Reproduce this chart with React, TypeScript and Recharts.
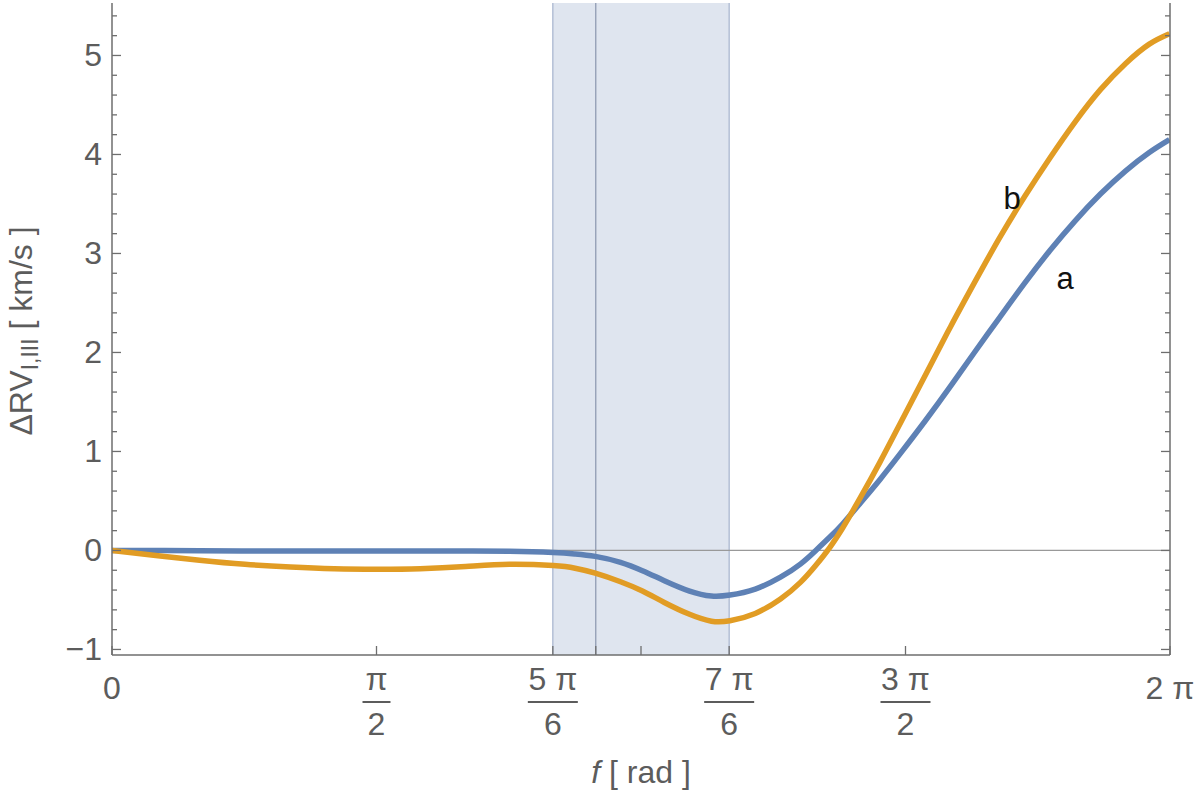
import { LineChart, Line, XAxis, YAxis, ReferenceArea, ReferenceLine, ReferenceDot } from 'recharts';

const PI = Math.PI;

// f [rad]
const fValues = [
  0, 0.26, 0.52, 0.79, 1.06, 1.32, 1.57, 1.83, 2.1, 2.36, 2.62, 2.75, 2.87, 3.02, 3.15, 3.28, 3.43, 3.56, 3.67,
  3.82, 3.97, 4.09, 4.18, 4.26, 4.34, 4.44, 4.56, 4.68, 4.83, 4.98, 5.13, 5.27, 5.42, 5.57, 5.72, 5.87, 6.02, 6.16, 6.28,
];
// curve a (blue)
const aValues = [
  0, 0, -0.004, -0.005, -0.005, -0.005, -0.005, -0.005, -0.006, -0.008, -0.02, -0.035, -0.06, -0.12, -0.205, -0.305,
  -0.41, -0.46, -0.45, -0.39, -0.27, -0.135, 0, 0.13, 0.27, 0.47, 0.715, 0.975, 1.31, 1.66, 2.02, 2.35, 2.7, 3.03, 3.33,
  3.6, 3.835, 4.02, 4.15,
];
// curve b (orange)
const bValues = [
  0, -0.05, -0.098, -0.14, -0.168, -0.185, -0.19, -0.185, -0.163, -0.14, -0.153, -0.179, -0.229, -0.316, -0.41, -0.525,
  -0.645, -0.715, -0.71, -0.636, -0.49, -0.32, -0.15, 0.024, 0.23, 0.52, 0.89, 1.28, 1.77, 2.26, 2.73, 3.155, 3.575,
  3.965, 4.33, 4.655, 4.92, 5.115, 5.22,
];

const xTicks = [0, PI / 2, (5 * PI) / 6, 2.873, PI, (7 * PI) / 6, (3 * PI) / 2, 2 * PI];
const xTickNum = ['0', 'π', '5 π', '', '', '7 π', '3 π', '2 π'];
const xTickDen = ['', '2', '6', '', '', '6', '2', ''];

const yMajor = [-1, 0, 1, 2, 3, 4, 5];
const yTicks = [
  -1, -0.8, -0.6, -0.4, -0.2, 0, 0.2, 0.4, 0.6, 0.8, 1, 1.2, 1.4, 1.6, 1.8, 2, 2.2, 2.4, 2.6, 2.8, 3, 3.2, 3.4, 3.6,
  3.8, 4, 4.2, 4.4, 4.6, 4.8, 5, 5.2, 5.4,
];

const shadeFrom = (5 * PI) / 6;
const shadeTo = (7 * PI) / 6;
const shadeMid = 2.873;

const curveLabels = [
  { f: 5.345, v: 3.56, text: 'b' },
  { f: 5.66, v: 2.75, text: 'a' },
];

const data = fValues.map((f, i) => ({ f, a: aValues[i], b: bValues[i] }));

const GRAY = '#5c5c5c';
const FRAME = '#6e6e6e';
const FONT = '"Liberation Sans", Arial, sans-serif';

const isMajorY = (v: number) => yMajor.includes(Math.round(v * 10) / 10);

function LeftTick({ x, y, payload }: any) {
  const v = payload.value;
  const major = isMajorY(v);
  return (
    <g>
      <line x1={x} x2={x + (major ? 9 : 5)} y1={y} y2={y} stroke={FRAME} strokeWidth={1.3} />
      {major && (
        <text x={x - 10} y={y} textAnchor="end" dominantBaseline="central" fontSize={32} fill={GRAY} fontFamily={FONT}>
          {v < 0 ? `\u2212${Math.abs(v)}` : v}
        </text>
      )}
    </g>
  );
}

function RightTick({ x, y, payload }: any) {
  const major = isMajorY(payload.value);
  return <line x1={x} x2={x - (major ? 9 : 5)} y1={y} y2={y} stroke={FRAME} strokeWidth={1.3} />;
}

function BottomTick({ x, y, index }: any) {
  const num = xTickNum[index];
  const den = xTickDen[index];
  const barW = num.length > 1 ? 50 : 28;
  return (
    <g fontFamily={FONT} fontSize={32} fill={GRAY}>
      <line x1={x} x2={x} y1={y} y2={y - 9} stroke={FRAME} strokeWidth={1.3} />
      {num && !den && (
        <text x={x} y={y + 33} textAnchor="middle" dominantBaseline="central">
          {num}
        </text>
      )}
      {num && den && (
        <g>
          <text x={x} y={y + 24} textAnchor="middle" dominantBaseline="central">
            {num}
          </text>
          <line x1={x - barW / 2} x2={x + barW / 2} y1={y + 47} y2={y + 47} stroke={GRAY} strokeWidth={2} />
          <text x={x} y={y + 69} textAnchor="middle" dominantBaseline="central">
            {den}
          </text>
        </g>
      )}
    </g>
  );
}

function YTitle() {
  return (
    <text
      x={32}
      y={331}
      transform="rotate(-90, 32, 331)"
      textAnchor="middle"
      fontSize={32}
      fill={GRAY}
      fontFamily={FONT}
    >
      ΔRV
      <tspan fontSize={23} dy={6}>
        I,III
      </tspan>
      <tspan dy={-6}> [ km/s ]</tspan>
    </text>
  );
}

function XTitle() {
  return (
    <text x={641} y={783} textAnchor="middle" fontSize={32} fill={GRAY} fontFamily={FONT}>
      <tspan fontStyle="italic">f</tspan> [ rad ]
    </text>
  );
}

export default function App() {
  return (
    <div style={{ position: 'absolute', left: 0, top: 0, background: '#fff' }}>
      <LineChart width={1200} height={798} data={data} margin={{ top: 3, right: 0, bottom: 0, left: 0 }}>
        <XAxis
          dataKey="f"
          type="number"
          domain={[0, 2 * PI]}
          ticks={xTicks}
          interval={0}
          allowDataOverflow
          height={143}
          tickSize={0}
          tickMargin={0}
          tickLine={false}
          tick={<BottomTick />}
          axisLine={{ stroke: FRAME, strokeWidth: 1.5 }}
          label={{ content: () => <XTitle /> }}
        />
        <XAxis
          xAxisId="top"
          orientation="top"
          type="number"
          domain={[0, 2 * PI]}
          allowDataOverflow
          height={0}
          tick={false}
          tickLine={false}
          axisLine={{ stroke: FRAME, strokeWidth: 1.5 }}
        />
        <YAxis
          type="number"
          domain={[-1.056, 5.53]}
          ticks={yTicks}
          interval={0}
          allowDataOverflow
          width={112}
          tickSize={0}
          tickMargin={0}
          tickLine={false}
          tick={<LeftTick />}
          axisLine={{ stroke: FRAME, strokeWidth: 1.5 }}
          label={{ content: () => <YTitle /> }}
        />
        <YAxis
          yAxisId="right"
          orientation="right"
          type="number"
          domain={[-1.056, 5.53]}
          ticks={yTicks}
          interval={0}
          allowDataOverflow
          width={30}
          tickSize={0}
          tickMargin={0}
          tickLine={false}
          tick={<RightTick />}
          axisLine={{ stroke: FRAME, strokeWidth: 1.5 }}
        />
        <ReferenceArea x1={shadeFrom} x2={shadeTo} fill="#dfe5ef" fillOpacity={1} stroke="none" />
        <ReferenceLine x={shadeFrom} stroke="#a5b3cd" strokeWidth={1.2} />
        <ReferenceLine x={shadeMid} stroke="#8995ad" strokeWidth={1.2} />
        <ReferenceLine x={shadeTo} stroke="#a5b3cd" strokeWidth={1.2} />
        <ReferenceLine y={0} stroke="#999" strokeWidth={1.2} />
        <Line
          type="natural"
          dataKey="a"
          stroke="#5e81b5"
          strokeWidth={5.5}
          dot={false}
          activeDot={false}
          isAnimationActive={false}
        />
        <Line
          type="natural"
          dataKey="b"
          stroke="#e19c24"
          strokeWidth={5.5}
          dot={false}
          activeDot={false}
          isAnimationActive={false}
        />
        {curveLabels.map((l) => (
          <ReferenceDot
            key={l.text}
            x={l.f}
            y={l.v}
            r={1}
            fill="none"
            stroke="none"
            label={{ value: l.text, position: 'center', fontSize: 31, fill: '#111', fontFamily: FONT }}
          />
        ))}
      </LineChart>
    </div>
  );
}
